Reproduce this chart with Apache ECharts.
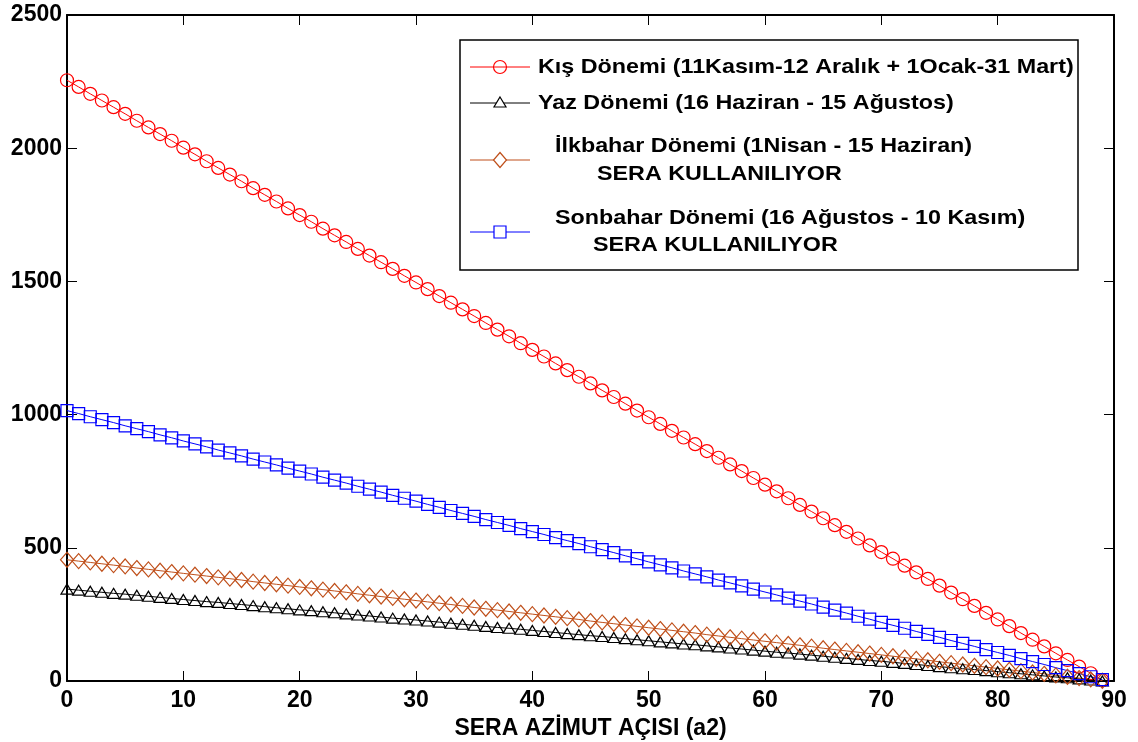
<!DOCTYPE html>
<html><head><meta charset="utf-8">
<script src="https://cdn.jsdelivr.net/npm/echarts@6/dist/echarts.min.js"></script>
<style>html,body{margin:0;padding:0;background:#fff}#c{width:1138px;height:742px}</style>
</head><body><div id="c"></div>
<script>
const angles = Array.from({length: 90}, (_, i) => i);
const kisValues = [2255,2230,2204,2179,2154,2129,2103,2078,2053,2028,2002,1977,1951,1926,1901,1876,1850,1825,1800,1774,1749,1724,1698,1673,1648,1622,1597,1572,1547,1521,1496,1471,1445,1420,1395,1370,1344,1319,1294,1268,1243,1218,1192,1167,1142,1117,1091,1066,1041,1015,990,965,939,914,889,863,838,813,788,762,737,712,686,661,636,611,585,560,535,509,484,459,433,408,383,358,332,307,282,256,231,206,180,155,130,104,79,54,29,3];
const yazValues = [345,341,337,333,329,326,322,318,314,310,306,302,298,295,291,287,283,279,275,271,267,264,260,256,252,248,244,240,236,233,229,225,221,217,213,209,205,201,198,194,190,186,182,178,174,170,167,163,159,155,151,147,143,139,136,132,128,124,120,116,112,108,105,101,97,93,89,85,81,77,74,70,66,62,58,54,50,46,43,39,35,31,27,23,19,15,12,8,4,0];
const ilkbaharValues = [455,450,445,440,435,430,424,419,414,409,404,399,394,389,384,379,373,368,363,358,353,348,343,338,333,327,322,317,312,307,302,297,292,287,282,276,271,266,261,256,251,246,241,236,231,225,220,215,210,205,200,195,190,185,180,174,169,164,159,154,149,144,139,134,129,123,118,113,108,103,98,93,88,83,78,72,67,62,57,52,47,42,37,32,27,21,16,11,6,1];
const sonbaharValues = [1015,1004,992,981,970,958,947,936,924,913,901,890,879,867,856,845,833,822,811,799,788,777,765,754,743,731,720,709,697,686,675,663,652,640,629,618,606,595,584,572,561,550,538,527,516,504,493,482,470,459,447,436,425,413,402,391,379,368,357,345,334,323,311,300,289,277,266,255,243,232,220,209,198,186,175,164,152,141,130,118,107,96,84,73,62,50,39,28,16,5];
const xTicks = {min: 0, max: 90, interval: 10};
const yTicks = {min: 0, max: 2500, interval: 500};
const seriesNames = [
  'Kış Dönemi (11Kasım-12 Aralık + 1Ocak-31 Mart)',
  'Yaz Dönemi (16 Haziran - 15 Ağustos)',
  'İlkbahar Dönemi (1Nisan - 15 Haziran)',
  'Sonbahar Dönemi (16 Ağustos - 10 Kasım)'
];
const subLabel = 'SERA KULLANILIYOR';
const xName = 'SERA AZİMUT AÇISI (a2)';

const RED = '#ff0000', BLACK = '#000000', BROWN = '#bf4f1a', BLUE = '#0000ff';
const FONT = 'Liberation Sans';

function pts(vals){ return angles.map((a,i)=>[a, vals[i]]); }
function mkSeries(name, vals, color, symbol, size){
  return {
    name, type: 'line', data: pts(vals), symbol, symbolSize: size,
    showAllSymbol: true,
    lineStyle: {color, width: 1},
    itemStyle: {color: 'rgba(0,0,0,0)', borderColor: color, borderWidth: 1.2},
    emphasis: {disabled: true}, z: 3
  };
}

const axisCommon = {
  axisLine: {show: true, onZero: false, lineStyle: {color: '#000', width: 2}},
  axisTick: {show: true, inside: true, length: 10, lineStyle: {color: '#000', width: 1}},
  splitLine: {show: false}
};
const labelStyle = {fontFamily: FONT, fontWeight: 'bold', fontSize: 23, color: '#000'};

const chart = echarts.init(document.getElementById('c'), null, {renderer: 'canvas'});

const LX = 460, LY = 40, LW = 618, LH = 230;
const lineX1 = 470, lineX2 = 530, symX = 500;
const SX = 1.11;
function txt(x, y, text){
  return {type: 'text', x, y, scaleX: SX, scaleY: 1, z: 12,
    style: {text, fontFamily: FONT, fontWeight: 'bold', fontSize: 21, fill: '#000', verticalAlign: 'middle'}};
}
const graphic = [
  {type: 'rect', shape: {x: LX, y: LY, width: LW, height: LH}, style: {fill: '#fff', stroke: '#000', lineWidth: 1.5}, z: 10},
  {type: 'line', shape: {x1: lineX1, y1: 67, x2: lineX2, y2: 67}, style: {stroke: RED, lineWidth: 1}, z: 11},
  {type: 'circle', shape: {cx: symX, cy: 67, r: 6.5}, style: {fill: 'rgba(0,0,0,0)', stroke: RED, lineWidth: 1.2}, z: 12},
  txt(538, 67, seriesNames[0]),
  {type: 'line', shape: {x1: lineX1, y1: 103, x2: lineX2, y2: 103}, style: {stroke: BLACK, lineWidth: 1}, z: 11},
  {type: 'polygon', shape: {points: [[symX, 97], [symX+6, 107], [symX-6, 107]]}, style: {fill: '#fff', stroke: BLACK, lineWidth: 1.2}, z: 12},
  txt(538, 103, seriesNames[1]),
  {type: 'line', shape: {x1: lineX1, y1: 160, x2: lineX2, y2: 160}, style: {stroke: BROWN, lineWidth: 1}, z: 11},
  {type: 'polygon', shape: {points: [[symX, 152.5], [symX+6.5, 160], [symX, 167.5], [symX-6.5, 160]]}, style: {fill: '#fff', stroke: BROWN, lineWidth: 1.2}, z: 12},
  txt(555, 146, seriesNames[2]),
  txt(597, 174, subLabel),
  {type: 'line', shape: {x1: lineX1, y1: 232, x2: lineX2, y2: 232}, style: {stroke: BLUE, lineWidth: 1}, z: 11},
  {type: 'rect', shape: {x: symX-6, y: 226, width: 12, height: 12}, style: {fill: '#fff', stroke: BLUE, lineWidth: 1.2}, z: 12},
  txt(555, 218, seriesNames[3]),
  txt(593, 245, subLabel)
];

chart.setOption({
  animation: false,
  backgroundColor: '#fff',
  grid: {left: 67, right: 24, top: 15, bottom: 61, containLabel: false, outerBoundsMode: 'none'},
  xAxis: [
    Object.assign({type: 'value', position: 'bottom', min: xTicks.min, max: xTicks.max, interval: xTicks.interval,
      name: xName, nameLocation: 'middle', nameGap: 34,
      nameTextStyle: {fontFamily: FONT, fontWeight: 'bold', fontSize: 23, color: '#000'},
      axisLabel: Object.assign({margin: 8, formatter: v => String(v)}, labelStyle)}, axisCommon),
    Object.assign({type: 'value', position: 'top', min: xTicks.min, max: xTicks.max, interval: xTicks.interval,
      axisLabel: {show: false}}, axisCommon)
  ],
  yAxis: [
    Object.assign({type: 'value', position: 'left', min: yTicks.min, max: yTicks.max, interval: yTicks.interval,
      axisLabel: Object.assign({margin: 5, formatter: v => String(v)}, labelStyle)}, axisCommon),
    Object.assign({type: 'value', position: 'right', min: yTicks.min, max: yTicks.max, interval: yTicks.interval,
      axisLabel: {show: false}}, axisCommon)
  ],
  series: [
    mkSeries(seriesNames[0], kisValues, RED, 'circle', 13),
    mkSeries(seriesNames[1], yazValues, BLACK, 'triangle', [12, 10]),
    mkSeries(seriesNames[2], ilkbaharValues, BROWN, 'diamond', [13, 15]),
    mkSeries(seriesNames[3], sonbaharValues, BLUE, 'rect', 12)
  ],
  graphic
});
</script></body></html>
